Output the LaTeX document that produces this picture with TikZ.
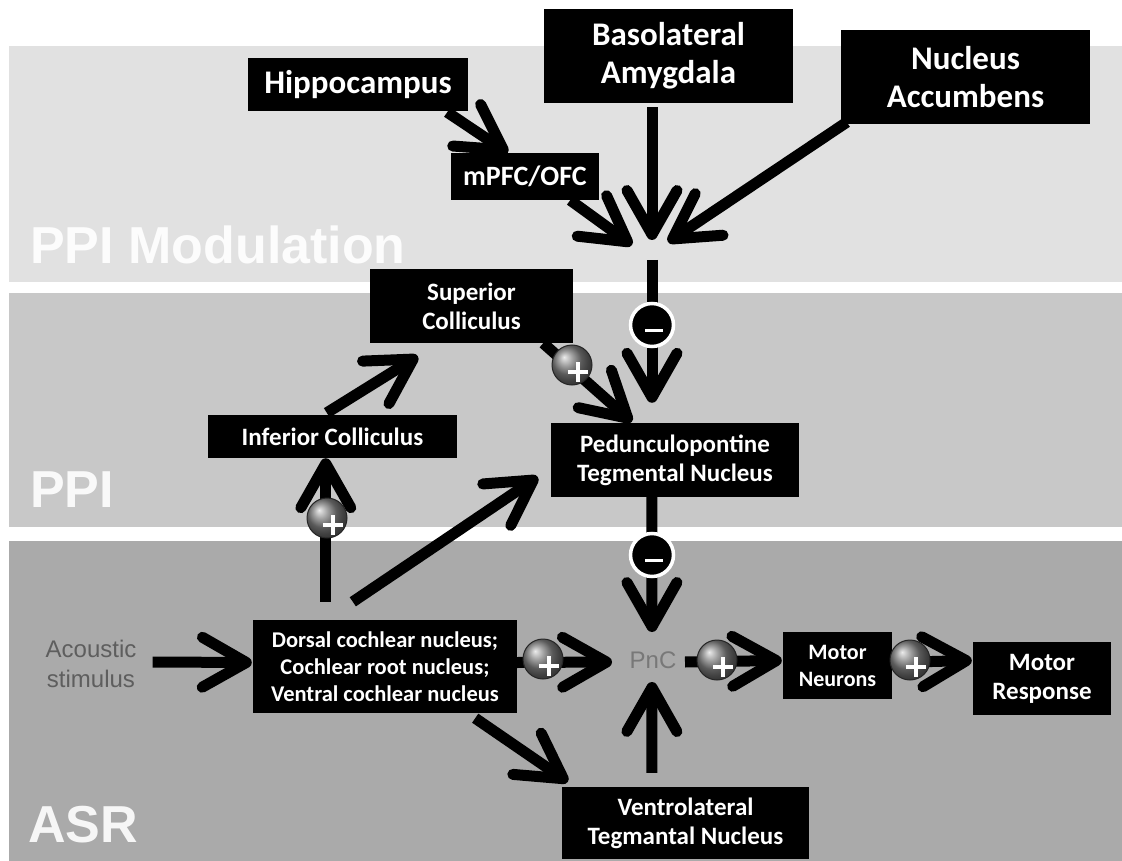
\documentclass[tikz,border=0pt]{standalone}
\usepackage{fontspec}
\usetikzlibrary{arrows.meta,calc}
\newfontfamily\boxfont{Carlito}
\newfontfamily\helv{Liberation Sans}
\definecolor{bandtop}{HTML}{E1E1E1}
\definecolor{bandmid}{HTML}{C8C8C8}
\definecolor{bandlow}{HTML}{AAAAAA}
\definecolor{pnctext}{HTML}{787878}
\definecolor{stimtext}{HTML}{5E5E5E}

\tikzset{
  region/.style={text=white, text opacity=0.9, anchor=base west, inner sep=0pt,
    font=\helv\bfseries\fontsize{52}{60}\selectfont},
  box/.style={fill=black, text=white, align=center, inner sep=0pt},
  fbig/.style={font=\boxfont\bfseries\fontsize{33}{38}\selectfont},
  fmid/.style={font=\boxfont\bfseries\fontsize{25}{29}\selectfont},
  fsmall/.style={font=\boxfont\bfseries\fontsize{22.5}{27}\selectfont},
  conn/.style={line width=11pt, -{Straight Barb[length=44pt,width=50pt,round]}},
  excite/.style={circle, minimum size=40pt, inner sep=0pt, draw=black!85, line width=1pt,
    shading=ball, ball color=black!50},
  inhibit/.style={circle, minimum size=43pt, inner sep=0pt, fill=black, draw=white, line width=3.5pt},
  plussign/.pic={\draw[white, line width=4.5pt] (-4,7) -- (16,7) (6,-3) -- (6,17);},
  minussign/.pic={\draw[white, line width=3pt] (-7,5) -- (11,5);}
}

\begin{document}
\begin{tikzpicture}[x=1pt, y=-1pt]
\useasboundingbox (0,0) rectangle (1122,861);
\fill[white] (0,0) rectangle (1122,861);

% the three functional levels
\fill[bandtop] (9,46)  rectangle (1122,282);
\fill[bandmid] (9,293) rectangle (1122,527);
\fill[bandlow] (9,541) rectangle (1122,861);
\node[region] (lmod) at (30,263) {PPI Modulation};
\node[region] (lppi) at (30,507) {PPI};
\node[region] (lasr) at (28,842) {ASR};

% brain areas
\node[box, fbig, minimum width=220pt, minimum height=53pt] (hip)  at (358,84.5) {Hippocampus};
\node[box, font=\boxfont\bfseries\fontsize{28}{32}\selectfont, minimum width=148pt, minimum height=47pt] (mpfc) at (525,176.5) {mPFC/OFC};
\node[box, fbig, minimum width=249pt, minimum height=94pt] (bla)  at (668.5,56) {Basolateral\\Amygdala};
\node[box, fbig, minimum width=249pt, minimum height=94pt] (nac)  at (965.5,77) {Nucleus\\Accumbens};
\node[box, fmid, minimum width=203pt, minimum height=74pt] (sc)   at (471.5,306) {Superior\\Colliculus};
\node[box, fmid, minimum width=249pt, minimum height=43pt] (ic)   at (332.5,436.5) {Inferior Colliculus};
\node[box, fmid, minimum width=248pt, minimum height=74pt] (pptn) at (675,460) {Pedunculopontine\\Tegmental Nucleus};
\node[box, fsmall, minimum width=264pt, minimum height=93pt] (dcn) at (385,666.5) {Dorsal cochlear nucleus;\\Cochlear root nucleus;\\Ventral cochlear nucleus};
\node[box, font=\boxfont\bfseries\fontsize{22}{27}\selectfont, minimum width=109pt, minimum height=67pt] (mn) at (837.5,665.5) {Motor\\Neurons};
\node[box, fmid, minimum width=138pt, minimum height=73pt] (mr) at (1042,678.5) {Motor\\Response};
\node[box, fmid, minimum width=247pt, minimum height=72pt] (vltn) at (685.5,823) {Ventrolateral\\Tegmantal Nucleus};

\node[inner sep=0pt, text=pnctext, font=\helv\fontsize{24}{28}\selectfont] (pnc) at (653,660) {PnC};
\node[inner sep=0pt, text=stimtext, align=center, font=\helv\fontsize{24}{30}\selectfont] (acou) at (91,664) {Acoustic\\stimulus};

\coordinate (modhub) at (652,250);

% modulatory inputs
\draw[conn] ($(hip.south east)+(-21,1)$) -- ($(mpfc.north west)+(57,0)$);
\draw[conn] ($(mpfc.south east)+(-29,0)$) -- ($(modhub)+(-20,-5)$);
\draw[conn] ($(bla.south -| modhub)+(0,4)$) -- ($(modhub)+(0,-10)$);
\draw[conn] ($(nac.south west)+(6,-2)$) -- ($(modhub)+(16,-8)$);
\draw[conn] ($(modhub)+(0,10)$) -- ($(pptn.north -| modhub)+(0,-20)$);

% prepulse pathway
\draw[conn] ($(dcn.north west)+(73,-18)$) -- ($(ic.south west)+(118,0)$);
\draw[conn] ($(ic.north west)+(119,-2)$) -- ($(sc.south west)+(48,13)$);
\draw[conn] ($(sc.south east)+(-30,0)$) -- ($(pptn.north west)+(81,-1)$);
\draw[conn] ($(dcn.north west)+(100,-18)$) -- ($(pptn.west)+(-13,17)$);
\draw[conn] ($(pptn.south west)+(101,0)$) -- ($(pnc.center)+(-1,-28)$);

% startle pathway
\draw[conn] ($(acou.east)+(16,-2)$) -- ($(dcn.west)+(-1,-4)$);
\draw[conn] ($(dcn.east)+(0,-4)$) -- ($(pnc.center)+(-41,2)$);
\draw[conn] ($(dcn.south east)+(-42,5)$) -- ($(vltn.north west)+(6,-5)$);
\draw[conn] ($(vltn.north west)+(90,-14)$) -- ($(pnc.center)+(-1,22)$);
\draw[conn] ($(pnc.center)+(32,2)$) -- ($(mn.west)+(-1,-5)$);
\draw[conn] ($(mn.east)+(0,-3)$) -- ($(mr.west)+(-1,-18)$);

% synapse signs
\node[inhibit] (m1) at (652,325) {};
\pic at (m1) {minussign};
\node[inhibit] (m2) at (652,555) {};
\pic at (m2) {minussign};
\node[excite] (p1) at (572,365) {};
\pic at (p1) {plussign};
\node[excite] (p2) at (327,518) {};
\pic at (p2) {plussign};
\node[excite] (p3) at (543,659) {};
\pic at (p3) {plussign};
\node[excite] (p4) at (717,660) {};
\pic at (p4) {plussign};
\node[excite] (p5) at (910,660) {};
\pic at (p5) {plussign};
\end{tikzpicture}
\end{document}
